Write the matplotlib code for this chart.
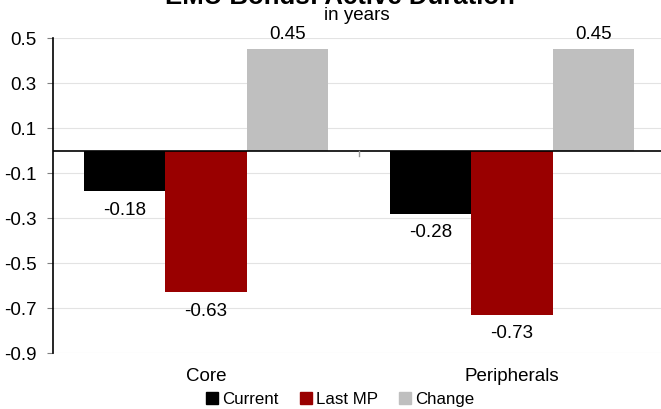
import numpy as np
import matplotlib.pyplot as plt
from matplotlib.lines import Line2D

plt.rcParams['font.family'] = ['Liberation Sans', 'DejaVu Sans']

categories = ['Core', 'Peripherals']
series = ['Current', 'Last MP', 'Change']
current = [-0.18, -0.28]
last_mp = [-0.63, -0.73]
change = [0.45, 0.45]
colors = ['#000000', '#990000', '#BFBFBF']
yticks = [0.5, 0.3, 0.1, -0.1, -0.3, -0.5, -0.7, -0.9]

fs = 13.5

fig = plt.figure(figsize=(6.61, 4.10), dpi=100)
ax = fig.add_axes([53 / 661, 1 - 354 / 410, 612 / 661, 315 / 410])

x = np.arange(len(categories))
w = 0.265
for k, (vals, c) in enumerate(zip([current, last_mp, change], colors)):
    pos = x + (k - 1) * w
    ax.bar(pos, vals, width=w, color=c, zorder=2)
    for p, v in zip(pos, vals):
        if v >= 0:
            ax.annotate(f'{v:.2f}', (p, v), xytext=(0, 5), textcoords='offset points',
                        ha='center', va='bottom', fontsize=fs)
        else:
            ax.annotate(f'{v:.2f}', (p, v), xytext=(0, -7), textcoords='offset points',
                        ha='center', va='top', fontsize=fs)

ax.set_xlim(-0.5, 1.5)
ax.set_ylim(-0.9, 0.5)
ax.set_yticks(yticks)
ax.set_yticklabels([f'{t:.1f}' for t in yticks], fontsize=fs)
ax.yaxis.grid(True, color='#E3E3E3', linewidth=0.8, zorder=0)
ax.tick_params(axis='y', length=4, width=0.8, color='#808080', pad=8)
ax.axhline(0, color='black', linewidth=1.2, zorder=3)
ax.plot([0.5, 0.5], [0, -0.025], color='#999999', linewidth=1, zorder=3, clip_on=False)

ax.set_xticks(x)
ax.set_xticklabels(categories, fontsize=fs)
ax.tick_params(axis='x', length=0, pad=10)

for s in ['top', 'right', 'bottom']:
    ax.spines[s].set_visible(False)
ax.spines['left'].set_linewidth(1.2)

handles = [Line2D([], [], marker='s', linestyle='none', color=c, markersize=8.5) for c in colors]
fig.legend(handles, series, loc='center', bbox_to_anchor=(0.512, 1 - 400 / 410), ncol=3,
           frameon=False, fontsize=12.2, handletextpad=0.0, columnspacing=1.0,
           handlelength=1.2, borderpad=0)

fig.text(0.54, 1 - 16 / 410, 'in years', ha='center', va='center', fontsize=fs)
# title sits mostly above the canvas, as in the source image
fig.text(0.515, 1 - 4 / 410, 'EMU Bonds: Active Duration', ha='center', va='baseline',
         fontsize=18.5, fontweight='bold')

fig.savefig('out.png', dpi=100)
